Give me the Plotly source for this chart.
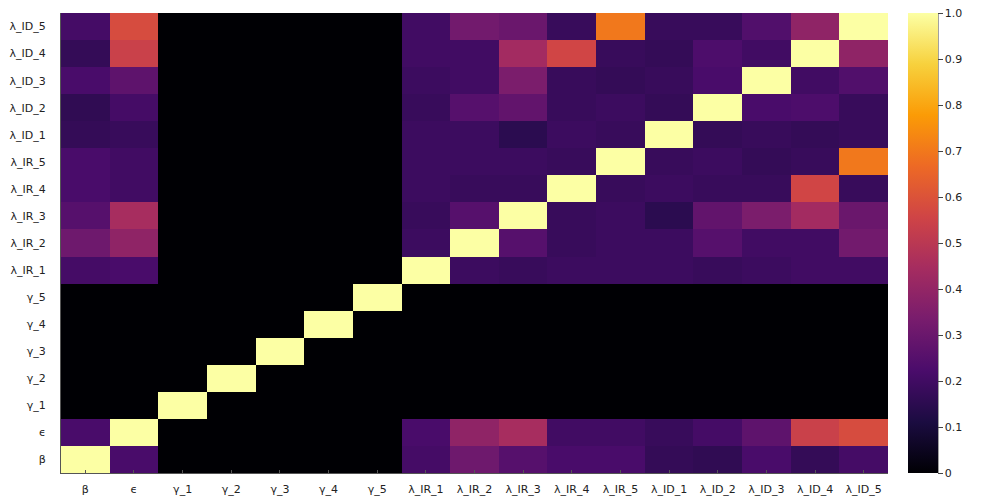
import plotly.graph_objects as go

labels = ["β", "ϵ", "γ_1", "γ_2", "γ_3", "γ_4", "γ_5",
          "λ_IR_1", "λ_IR_2", "λ_IR_3", "λ_IR_4", "λ_IR_5",
          "λ_ID_1", "λ_ID_2", "λ_ID_3", "λ_ID_4", "λ_ID_5"]

# correlation matrix rows (bottom row = β, top row = λ_ID_5)
row_beta = [1.00, 0.22, 0, 0, 0, 0, 0, 0.21, 0.31, 0.25, 0.22, 0.22, 0.17, 0.16, 0.22, 0.17, 0.21]
row_eps  = [0.22, 1.00, 0, 0, 0, 0, 0, 0.22, 0.39, 0.45, 0.20, 0.20, 0.18, 0.21, 0.27, 0.54, 0.58]
row_g1   = [0, 0, 1, 0, 0, 0, 0, 0, 0, 0, 0, 0, 0, 0, 0, 0, 0]
row_g2   = [0, 0, 0, 1, 0, 0, 0, 0, 0, 0, 0, 0, 0, 0, 0, 0, 0]
row_g3   = [0, 0, 0, 0, 1, 0, 0, 0, 0, 0, 0, 0, 0, 0, 0, 0, 0]
row_g4   = [0, 0, 0, 0, 0, 1, 0, 0, 0, 0, 0, 0, 0, 0, 0, 0, 0]
row_g5   = [0, 0, 0, 0, 0, 0, 1, 0, 0, 0, 0, 0, 0, 0, 0, 0, 0]
row_ir1  = [0.21, 0.22, 0, 0, 0, 0, 0, 1.00, 0.19, 0.18, 0.19, 0.19, 0.19, 0.18, 0.19, 0.20, 0.20]
row_ir2  = [0.31, 0.39, 0, 0, 0, 0, 0, 0.19, 1.00, 0.25, 0.18, 0.19, 0.19, 0.25, 0.20, 0.20, 0.32]
row_ir3  = [0.25, 0.45, 0, 0, 0, 0, 0, 0.18, 0.25, 1.00, 0.18, 0.19, 0.15, 0.28, 0.34, 0.44, 0.30]
row_ir4  = [0.22, 0.20, 0, 0, 0, 0, 0, 0.19, 0.18, 0.18, 1.00, 0.18, 0.19, 0.18, 0.18, 0.56, 0.18]
row_ir5  = [0.22, 0.20, 0, 0, 0, 0, 0, 0.19, 0.19, 0.19, 0.18, 1.00, 0.18, 0.19, 0.17, 0.18, 0.70]
row_id1  = [0.17, 0.18, 0, 0, 0, 0, 0, 0.19, 0.19, 0.15, 0.19, 0.18, 1.00, 0.17, 0.18, 0.17, 0.18]
row_id2  = [0.16, 0.21, 0, 0, 0, 0, 0, 0.18, 0.25, 0.28, 0.18, 0.19, 0.17, 1.00, 0.22, 0.23, 0.18]
row_id3  = [0.22, 0.27, 0, 0, 0, 0, 0, 0.19, 0.20, 0.34, 0.18, 0.17, 0.18, 0.22, 1.00, 0.20, 0.24]
row_id4  = [0.17, 0.54, 0, 0, 0, 0, 0, 0.20, 0.20, 0.44, 0.56, 0.18, 0.17, 0.23, 0.20, 1.00, 0.39]
row_id5  = [0.21, 0.58, 0, 0, 0, 0, 0, 0.20, 0.32, 0.30, 0.18, 0.70, 0.18, 0.18, 0.24, 0.39, 1.00]

z = [row_beta, row_eps, row_g1, row_g2, row_g3, row_g4, row_g5,
     row_ir1, row_ir2, row_ir3, row_ir4, row_ir5,
     row_id1, row_id2, row_id3, row_id4, row_id5]

cb_vals = [0, 0.1, 0.2, 0.3, 0.4, 0.5, 0.6, 0.7, 0.8, 0.9, 1.0]
cb_text = ["0", "0.1", "0.2", "0.3", "0.4", "0.5", "0.6", "0.7", "0.8", "0.9", "1.0"]

font = dict(family="DejaVu Sans", size=11, color="#222222")

# the page body adds an 8 px offset, so the figure is 992x492
W, H = 992, 492
L, R, T, B = 53, 112, 5, 27
PW = W - L - R

fig = go.Figure(go.Heatmap(
    x=labels, y=labels, z=z,
    colorscale="Inferno", zmin=0, zmax=1,
    colorbar=dict(
        x=(900 - L) / PW, xanchor="left", xref="paper",
        y=0.5, yanchor="middle", len=1.0, lenmode="fraction",
        thickness=30, thicknessmode="pixels",
        outlinewidth=0,
        tickvals=cb_vals, ticktext=cb_text,
        ticks="outside", ticklen=5, tickcolor="#444444",
        tickfont=font, ypad=0, xpad=0,
        ticklabeloverflow="allow",
    ),
))

fig.update_layout(
    width=W, height=H,
    margin=dict(l=L, r=R, t=T, b=B, autoexpand=False),
    paper_bgcolor="white", plot_bgcolor="white",
    font=font,
    shapes=[dict(type="line", xref="paper", yref="paper",
                 x0=(930 - L) / PW, x1=(930 - L) / PW, y0=0, y1=1,
                 line=dict(color="#444444", width=1))],
)
fig.update_xaxes(showgrid=False, zeroline=False, showline=True, linecolor="#555555",
                 linewidth=1, ticks="inside", ticklen=3, tickcolor="#555555",
                 tickfont=font, automargin=False, ticklabelstandoff=6)
fig.update_yaxes(showgrid=False, zeroline=False, showline=True, linecolor="#555555",
                 linewidth=1, ticks="", tickfont=font, automargin=False,
                 ticklabelstandoff=12)

fig.write_html("out.html")
